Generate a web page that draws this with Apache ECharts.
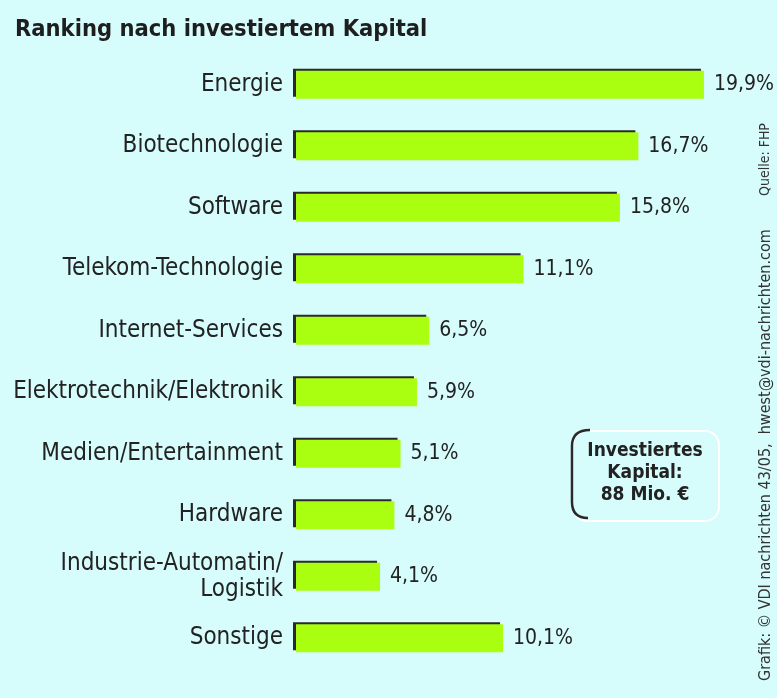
<!DOCTYPE html>
<html>
<head>
<meta charset="utf-8">
<script src="https://cdn.jsdelivr.net/npm/echarts@6/dist/echarts.min.js"></script>
<style>
  html, body { margin: 0; padding: 0; background: #d6fcfc; }
  #chart { width: 777px; height: 698px; }
</style>
</head>
<body>
<div id="chart"></div>
<script>
// Branchen und Anteile am investierten Kapital
const categories = [
    'Energie', 'Biotechnologie', 'Software', 'Telekom-Technologie', 'Internet-Services',
    'Elektrotechnik/Elektronik', 'Medien/Entertainment', 'Hardware',
    'Industrie-Automatin/\nLogistik', 'Sonstige'
];
const shares = [19.9, 16.7, 15.8, 11.1, 6.5, 5.9, 5.1, 4.8, 4.1, 10.1];

const font = '"DejaVu Sans Condensed", "Liberation Sans Narrow", sans-serif';
const boxStroke = { fill: 'none', stroke: '#2a2a2a', lineWidth: 2.5 };

const chart = echarts.init(document.getElementById('chart'));
chart.setOption({
    backgroundColor: '#d6fcfc',
    animation: false,
    title: {
        text: 'Ranking nach investiertem Kapital',
        left: 10,
        top: 13,
        textStyle: { fontFamily: font, fontSize: 23.5, fontWeight: 'bold', color: '#1e1e1e' }
    },
    grid: { left: 296, right: 71, top: 54, bottom: 29 },
    xAxis: {
        type: 'value',
        min: 0,
        max: 20,
        show: false
    },
    yAxis: {
        type: 'category',
        inverse: true,
        data: categories,
        axisLine: { show: false },
        axisTick: { show: false },
        axisLabel: {
            margin: 13,
            fontFamily: font,
            fontSize: 24,
            lineHeight: 26,
            color: '#222'
        }
    },
    series: [{
        type: 'bar',
        data: shares,
        barWidth: 28,
        itemStyle: {
            color: '#aaff10',
            shadowColor: '#2a2a2a',
            shadowOffsetX: -3,
            shadowOffsetY: -2,
            shadowBlur: 0
        },
        label: {
            show: true,
            position: 'right',
            distance: 10,
            fontFamily: font,
            fontSize: 21,
            color: '#222',
            formatter: p => p.value.toFixed(1).replace('.', ',') + '%'
        }
    }],
    graphic: [
        // Kasten: heller Rand rechts/unten, dunkler Bogen links
        {
            type: 'rect',
            left: 572,
            top: 430,
            shape: { width: 146, height: 90, r: 14 },
            style: { fill: '#d6fcfc', stroke: '#ffffff', lineWidth: 2 }
        },
        {
            type: 'bezierCurve',
            shape: { x1: 590, y1: 430, cpx1: 572, cpy1: 430, x2: 572, y2: 446 },
            style: boxStroke
        },
        {
            type: 'line',
            shape: { x1: 572, y1: 446, x2: 572, y2: 502 },
            style: boxStroke
        },
        {
            type: 'bezierCurve',
            shape: { x1: 572, y1: 502, cpx1: 572, cpy1: 518, x2: 588, y2: 518 },
            style: boxStroke
        },
        {
            type: 'text',
            x: 645,
            y: 440,
            style: {
                text: 'Investiertes\nKapital:\n88 Mio. €',
                align: 'center',
                fontFamily: font,
                fontSize: 19,
                fontWeight: 'bold',
                lineHeight: 22,
                fill: '#222'
            }
        },
        {
            type: 'text',
            x: 758,
            y: 196,
            rotation: Math.PI / 2,
            style: {
                text: 'Quelle: FHP',
                fontFamily: font,
                fontSize: 14,
                fill: '#333'
            }
        },
        {
            type: 'text',
            x: 758,
            y: 681,
            rotation: Math.PI / 2,
            style: {
                text: 'Grafik: © VDI nachrichten 43/05,  hwest@vdi-nachrichten.com',
                fontFamily: font,
                fontSize: 16,
                fill: '#333'
            }
        }
    ]
});
</script>
</body>
</html>
